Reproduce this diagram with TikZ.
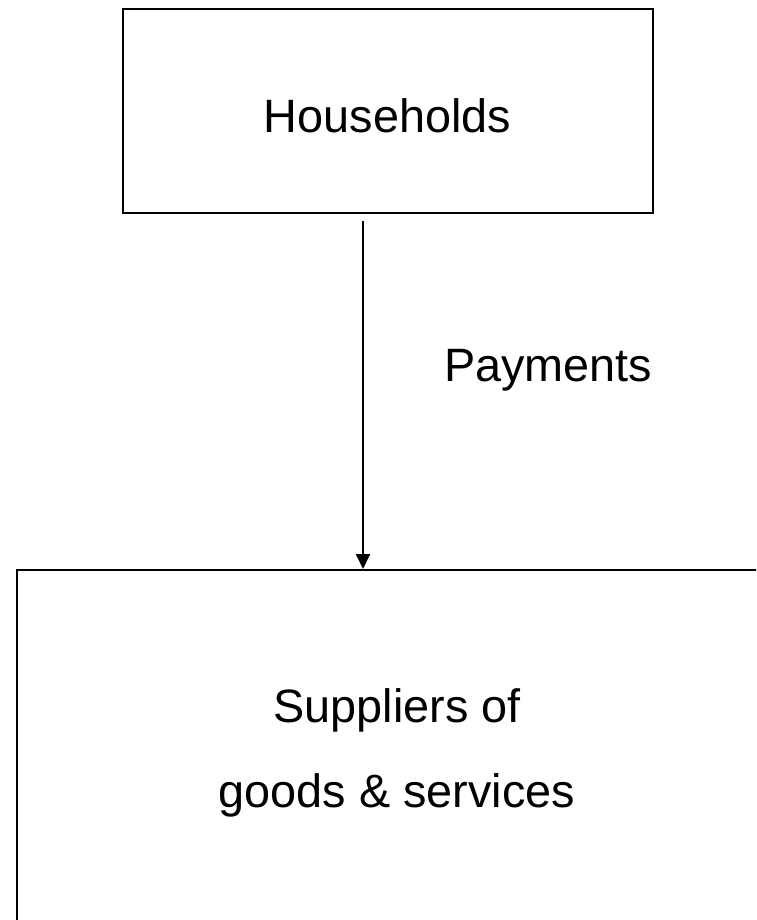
\documentclass[tikz,border=0pt]{standalone}
\usepackage{fontspec}
\setmainfont{Liberation Sans}
\usetikzlibrary{arrows.meta}
\begin{document}
\begin{tikzpicture}[x=1pt,y=-1pt,
  box/.style={draw=black,line width=2pt,inner sep=0pt},
  lbl/.style={inner sep=0pt,font=\fontsize{46.8}{56}\selectfont},
  flow/.style={line width=2pt,-{Triangle[width=14pt,length=15pt]}}]
\useasboundingbox (0,0) rectangle (756,920);
\clip (0,0) rectangle (756,920);
\node[box,minimum width=530pt,minimum height=204pt] (hh) at (387.5,111) {};
\node[lbl,anchor=base] (hht) at (387.5,133) {Households};
\node[box,minimum width=800pt,minimum height=420pt,anchor=north west] (sup) at (15.5,569) {};
\node[lbl,anchor=base] (s1) at (397,722) {Suppliers of};
\node[lbl,anchor=base] (s2) at (397,807) {goods \& services};
\coordinate (a) at (363,221);
\draw[flow] (a) -- (a |- sup.north);
\node[lbl,anchor=base west] (pay) at (444,381) {Payments};
\end{tikzpicture}
\end{document}
